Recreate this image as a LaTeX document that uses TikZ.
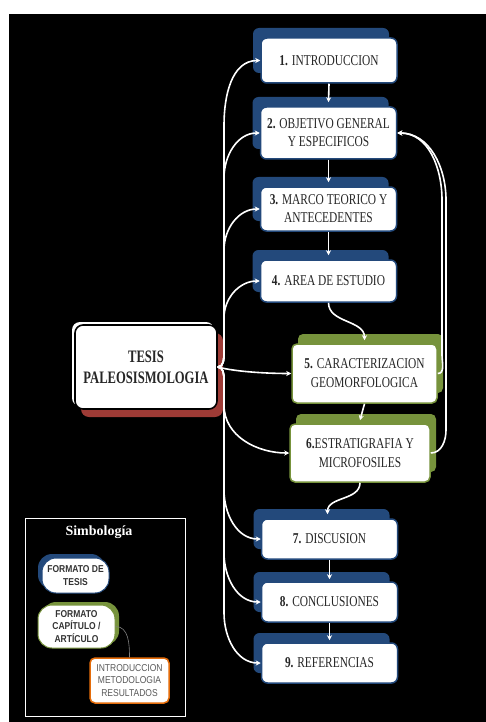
\documentclass[tikz,border=0pt]{standalone}
\usepackage{fontspec}
\setmainfont{Liberation Serif}
\newfontfamily\boxfont[FakeStretch=0.76]{Liberation Serif}
\newfontfamily\tesisfont[FakeStretch=0.72]{Liberation Serif}
\newfontfamily\legfont[FakeStretch=0.85]{Liberation Sans}
\usetikzlibrary{shadows,arrows.meta}
\definecolor{blueD}{HTML}{23497B}
\definecolor{greenC}{HTML}{77933C}
\definecolor{redC}{HTML}{9E3B36}
\definecolor{orangeC}{HTML}{E46C0A}
\definecolor{txt}{HTML}{262626}
\definecolor{legtxt}{HTML}{333333}
\definecolor{orgtxt}{HTML}{595959}
\tikzset{
  bbox/.style={draw=blueD, line width=1.5pt, fill=white, rounded corners=6pt,
    minimum width=136pt, align=center, inner sep=2pt, text=txt,
    font=\boxfont\fontsize{15}{18}\selectfont,
    general shadow={fill=blueD, shadow xshift=-8pt, shadow yshift=10pt}},
  gbox/.style={draw=greenC, line width=1.5pt, fill=white, rounded corners=5pt,
    align=center, inner sep=2pt, text=txt,
    font=\boxfont\fontsize{15}{19}\selectfont,
    general shadow={fill=greenC, shadow xshift=6pt, shadow yshift=10pt}},
  arr/.style={draw=white, line width=1.6pt, -{Stealth[length=5pt,width=5pt]}},
  legtext/.style={align=center, text=legtxt, font=\legfont\bfseries\fontsize{10}{12.3}\selectfont},
}
\begin{document}
\begin{tikzpicture}[x=1pt,y=-1pt]
\useasboundingbox (0,0) rectangle (486,722);
\fill[white] (0,0) rectangle (486,722);
\fill[black] (9,14) rectangle (486,722);

% main boxes
\node[bbox, minimum height=45pt] (B1) at (329,60.5) {\textbf{1.} INTRODUCCION};
\node[bbox, minimum height=52pt] (B2) at (328.5,133) {\textbf{2.} OBJETIVO GENERAL\\Y ESPECIFICOS};
\node[bbox, minimum height=44pt] (B3) at (328.5,209) {\textbf{3.} MARCO TEORICO Y\\ANTECEDENTES};
\node[bbox, minimum height=42pt] (B4) at (328.5,281) {\textbf{4.} AREA DE ESTUDIO};
\node[gbox, minimum width=145pt, minimum height=59pt] (B5) at (364.5,373.5) {\textbf{5.} CARACTERIZACION\\GEOMORFOLOGICA};
\node[gbox, minimum width=140pt, minimum height=58pt] (B6) at (360,453) {\textbf{6.}ESTRATIGRAFIA Y\\MICROFOSILES};
\node[bbox, minimum height=40pt] (B7) at (329.5,539) {\textbf{7.} DISCUSION};
\node[bbox, minimum height=40pt] (B8) at (329.5,602) {\textbf{8.} CONCLUSIONES};
\node[bbox, minimum height=40pt] (B9) at (329.5,663) {\textbf{9.} REFERENCIAS};

% central box
\fill[redC, rounded corners=8pt] (81,333) rectangle (223,417);
\fill[white, rounded corners=8pt] (72,322) rectangle (214,406);
\node[draw=black, line width=1.6pt, fill=white, rounded corners=8pt,
  minimum width=142pt, minimum height=84pt, align=center, text=txt,
  font=\tesisfont\bfseries\fontsize{17.5}{21}\selectfont] (T) at (146,367) {TESIS\\PALEOSISMOLOGIA};

% left branches
\coordinate (U) at (224,352);
\coordinate (D) at (224,380);
\draw[arr] (T.east) to[out=0,in=-90] (U) -- (224,125) to[out=90,in=180] (B1.west);
\draw[arr] (T.east) to[out=0,in=-90] (U) -- (224,178) to[out=90,in=180] (B2.west);
\draw[arr] (T.east) to[out=0,in=-90] (U) -- (224,250) to[out=90,in=180] (B3.west);
\draw[arr] (T.east) to[out=0,in=-90] (U) -- (224,318) to[out=90,in=180] (B4.west);
\draw[arr] (T.east) to[out=-15,in=180,looseness=0.7] (B5.west);
\draw[arr] (T.east) to[out=0,in=90] (D) -- (224,405) to[out=-90,in=180] (B6.west);
\draw[arr] (T.east) to[out=0,in=90] (D) -- (224,490) to[out=-90,in=180] (B7.west);
\draw[arr] (T.east) to[out=0,in=90] (D) -- (224,553) to[out=-90,in=180] (B8.west);
\draw[arr] (T.east) to[out=0,in=90] (D) -- (224,613) to[out=-90,in=180] (B9.west);

% vertical sequence
\draw[arr] (B1.south) -- ([yshift=4pt]B2.north);
\draw[arr] (B2.south) -- ([yshift=4pt]B3.north);
\draw[arr] (B3.south) -- ([yshift=4pt]B4.north);
\draw[arr] (B4.south) to[out=-90,in=90] ([yshift=3pt]B5.north);
\draw[arr] (B5.south) -- ([yshift=3pt]B6.north);
\draw[arr] (B6.south) to[out=-90,in=90] ([xshift=-2pt,yshift=4pt]B7.north);
\draw[arr] (B7.south) -- ([yshift=2pt]B8.north);
\draw[arr] (B8.south) -- ([yshift=2pt]B9.north);

% right feedback
\draw[arr] (B5.east) to[out=0,in=-90] (442,355) -- (442,200) to[out=90,in=0] (B2.east);
\draw[arr] (B6.east) to[out=0,in=-90] (446,430) -- (446,200) to[out=90,in=0] (B2.east);

% legend
\draw[white, line width=1pt] (25,518) rectangle (185,716);
\node[text=white, font=\bfseries\fontsize{14}{16}\selectfont] (S) at (99,532) {Simbología};
\node[legtext, draw=blueD, line width=1pt, fill=white, rounded corners=14pt,
  minimum width=67pt, minimum height=35pt, inner sep=1pt,
  general shadow={fill=blueD, shadow xshift=-4pt, shadow yshift=4pt}] (LB) at (75.5,575.5) {FORMATO DE\\TESIS};
\node[legtext, draw=greenC, line width=1pt, fill=white, rounded corners=14pt,
  minimum width=77pt, minimum height=43pt, inner sep=1pt,
  general shadow={fill=greenC, shadow xshift=4pt, shadow yshift=3pt}] (LG) at (76.5,626.5) {FORMATO\\CAPÍTULO /\\ARTÍCULO};
\node[draw=orangeC, line width=1.5pt, fill=white, rounded corners=5pt,
  minimum width=79pt, minimum height=45pt, inner sep=1pt, align=center, text=orgtxt,
  font=\legfont\fontsize{10}{12.3}\selectfont] (LO) at (129.5,680.5) {INTRODUCCION\\METODOLOGIA\\RESULTADOS};
\draw[gray, line width=0.6pt] (LG.east) to[out=0,in=90] (LO.north);
\end{tikzpicture}
\end{document}
